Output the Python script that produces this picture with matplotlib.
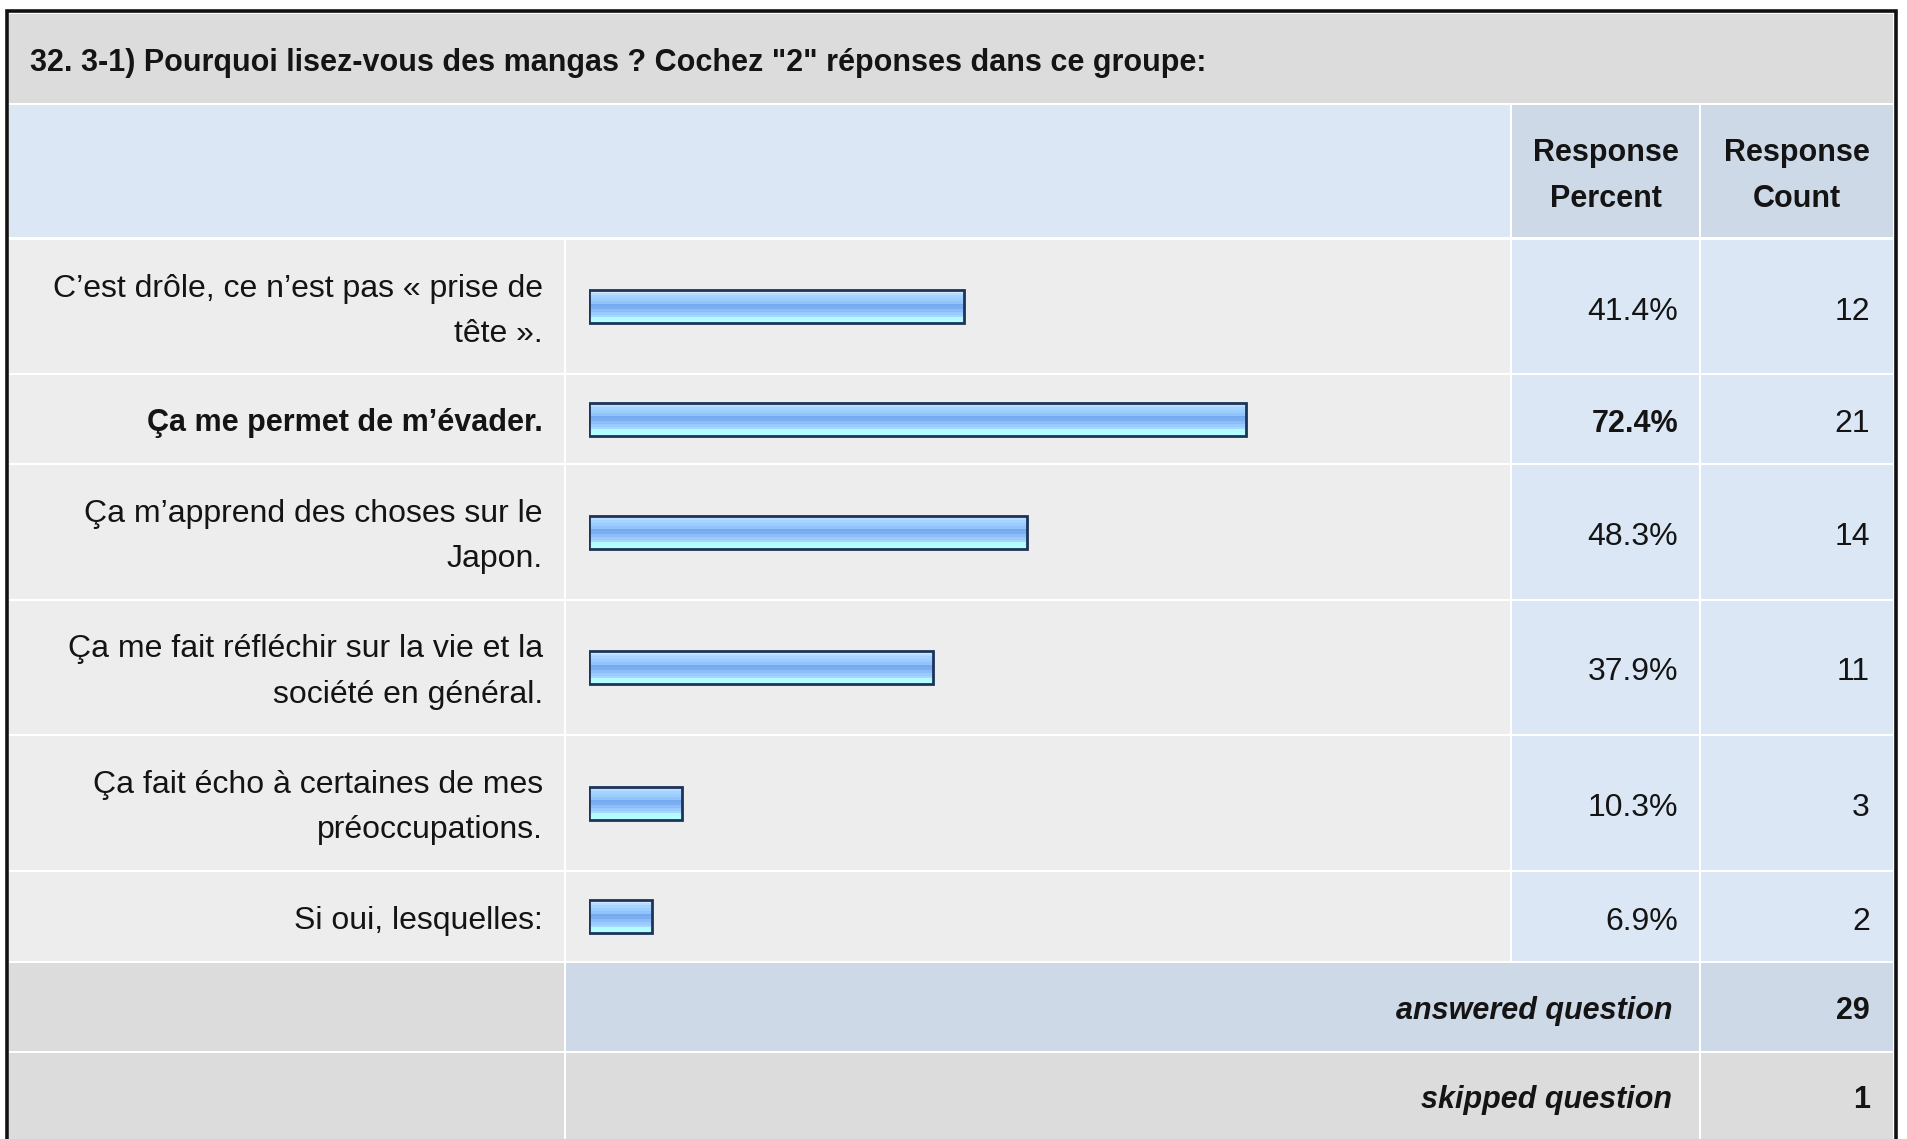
import matplotlib
matplotlib.use("Agg")
import matplotlib.pyplot as plt
from matplotlib.patches import Rectangle
import numpy as np

plt.rcParams['font.family'] = ['Liberation Sans', 'DejaVu Sans']

title = '32. 3-1) Pourquoi lisez-vous des mangas ? Cochez "2" réponses dans ce groupe:'
labels = [
    ["C\u2019est drôle, ce n\u2019est pas « prise de", "tête »."],
    ["Ça me permet de m\u2019évader."],
    ["Ça m\u2019apprend des choses sur le", "Japon."],
    ["Ça me fait réfléchir sur la vie et la", "société en général."],
    ["Ça fait écho à certaines de mes", "préoccupations."],
    ["Si oui, lesquelles:"],
]
percents = [41.4, 72.4, 48.3, 37.9, 10.3, 6.9]
counts = [12, 21, 14, 11, 3, 2]
bold_rows = [1]
answered = 29
skipped = 1

W, H = 1907, 1139
fig = plt.figure(figsize=(W / 100, H / 100), dpi=100)
fig.patch.set_facecolor('white')
ax = fig.add_axes([0, 0, 1, 1])
ax.set_xlim(0, W)
ax.set_ylim(H, 0)
ax.axis('off')

C_TITLE = '#dcdcdc'
C_HEAD = '#dce7f5'
C_HEAD2 = '#cdd9e6'
C_ROW = '#ededed'
C_VAL = '#dce7f5'
C_TXT = '#141414'
FS_REG = 23
FS_BOLD = 22

# layout (pixels)
FL, FR, FT = 9, 1893, 14
col = [FL, 565, 1511, 1700, FR]
row_edges = [239, 374, 464, 600, 735, 871, 962]
foot = [962, 1052, 1145]


def cell(x0, x1, y0, y1, c):
    ax.add_patch(Rectangle((x0, y0), x1 - x0, y1 - y0, facecolor=c, edgecolor='none', zorder=1))


def txt(x, y, s, bold=False, italic=False, ha='right'):
    ax.text(x, y, s, fontsize=FS_BOLD if bold else FS_REG,
            fontweight='bold' if bold else 'normal',
            fontstyle='italic' if italic else 'normal',
            color=C_TXT, ha=ha, va='center', zorder=3)


# outer frame
ax.add_patch(Rectangle((FL - 2.5, FT - 3), FR - FL + 5, H, facecolor='white',
                       edgecolor='#111111', linewidth=2.6, zorder=0))

# title band
cell(FL, FR, FT, 103, C_TITLE)
txt(30, 63, title, bold=True, ha='left')

# header
cell(FL, col[2] - 1, 105, 237, C_HEAD)
cell(col[2] + 1, col[3] - 1, 105, 237, C_HEAD2)
cell(col[3] + 1, FR, 105, 237, C_HEAD2)
for cx, lines in [((col[2] + col[3]) / 2, ['Response', 'Percent']),
                  ((col[3] + FR) / 2, ['Response', 'Count'])]:
    txt(cx, 153, lines[0], bold=True, ha='center')
    txt(cx, 199, lines[1], bold=True, ha='center')

# data rows
centers = []
for i in range(len(percents)):
    y0, y1 = row_edges[i] + 1, row_edges[i + 1] - 1
    yc = (row_edges[i] + row_edges[i + 1]) / 2
    centers.append(yc)
    cell(FL, col[1] - 1, y0, y1, C_ROW)
    cell(col[1] + 1, col[2] - 1, y0, y1, C_ROW)
    cell(col[2] + 1, col[3] - 1, y0, y1, C_VAL)
    cell(col[3] + 1, FR, y0, y1, C_VAL)
    b = i in bold_rows
    lines = labels[i]
    if len(lines) == 1:
        txt(543, yc + 4, lines[0], bold=b)
    else:
        txt(543, yc - 18, lines[0], bold=b)
        txt(543, yc + 27, lines[1], bold=b)
    txt(1678, yc + 5, f'{percents[i]:.1f}%', bold=b)
    txt(1870, yc + 5, f'{counts[i]}')

# footer rows
cell(FL, col[1] - 1, foot[0] + 1, foot[1] - 1, C_TITLE)
cell(col[1] + 1, col[3] - 1, foot[0] + 1, foot[1] - 1, C_HEAD2)
cell(col[3] + 1, FR, foot[0] + 1, foot[1] - 1, C_HEAD2)
cell(FL, col[1] - 1, foot[1] + 1, foot[2], C_TITLE)
cell(col[1] + 1, col[3] - 1, foot[1] + 1, foot[2], C_TITLE)
cell(col[3] + 1, FR, foot[1] + 1, foot[2], C_TITLE)
yf1 = 1011
yf2 = 1100
txt(1672, yf1, 'answered question', bold=True, italic=True)
txt(1870, yf1, f'{answered}', bold=True)
txt(1672, yf2, 'skipped question', bold=True, italic=True)
txt(1870, yf2, f'{skipped}', bold=True)

# bars in their own axes: x in percent
BX0, BW = 589, 907
axb = fig.add_axes([BX0 / W, 0, BW / W, 1])
axb.patch.set_alpha(0)
axb.axis('off')
grad_colors = ['#d2e8ff', '#b8dcff', '#a6d3ff', '#9ccdff', '#93c3fb', '#76aaee', '#7aaef1',
               '#8cbdf8', '#9acbff', '#a6d6ff', '#b4fbff', '#b4ffff']
grad = np.array([matplotlib.colors.to_rgb(c) for c in grad_colors])[:, None, :]
BH = 33
for yc, p in zip(centers, percents):
    axb.imshow(grad, extent=[0, p, yc + BH / 2, yc - BH / 2], aspect='auto',
               interpolation='nearest', zorder=2)
axb.barh(centers, percents, height=BH, left=0, facecolor='none', edgecolor='#1c3459',
         linewidth=2.0, zorder=3)
axb.set_xlim(0, 100)
axb.set_ylim(H, 0)

fig.savefig('out.png', dpi=100, facecolor='white')
